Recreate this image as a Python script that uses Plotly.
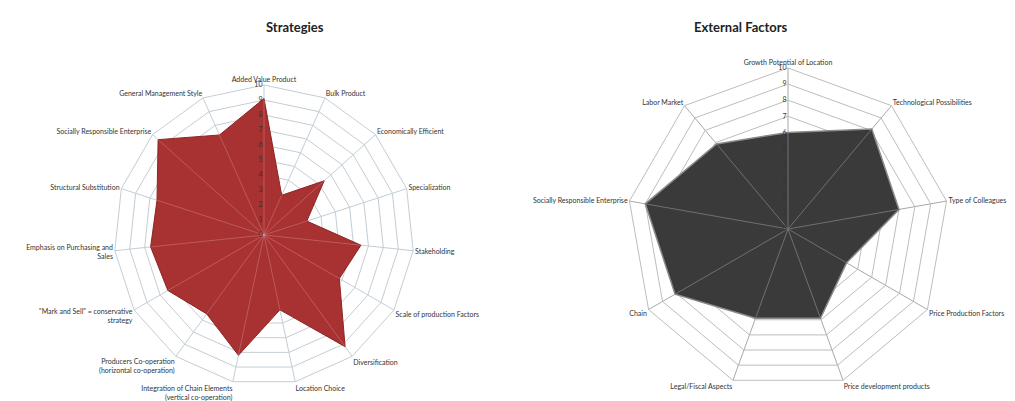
import plotly.graph_objects as go

strategy_categories = [
    "Added Value Product", "Bulk Product", "Economically Efficient", "Specialization",
    "Stakeholding", "Scale of production Factors", "Diversification", "Location Choice",
    "Integration of Chain Elements<br>(vertical co-operation)",
    "Producers Co-operation<br>(horizontal co-operation)",
    "\"Mark and Sell\" = conservative<br>strategy",
    "Emphasis on Purchasing and<br>Sales", "Structural Substitution",
    "Socially Responsible Enterprise", "General Management Style",
]
strategy_values = [9.1, 2.9, 5.4, 3.0, 6.5, 5.8, 9.2, 5.1, 8.2, 6.5, 7.4, 7.6, 7.5, 9.5, 7.3]

external_categories = [
    "Growth Potential of Location", "Technological Possibilities", "Type of Colleagues",
    "Price Production Factors", "Price development products", "Legal/Fiscal Aspects",
    "Chain", "Socially Responsible Enterprise", "Labor Market",
]
external_values = [6.0, 8.1, 7.0, 4.2, 5.9, 5.9, 8.1, 9.0, 6.9]

radial_ticks = list(range(0, 11))


def spokes(cats, vals):
    r, t = [], []
    for c, v in zip(cats, vals):
        r += [0, v, None]
        t += [c, c, None]
    return r, t


fig = go.Figure()
fig.add_trace(go.Scatterpolar(
    r=strategy_values + strategy_values[:1],
    theta=strategy_categories + strategy_categories[:1],
    fill="toself", fillcolor="#A83131", mode="lines",
    line=dict(color="#8E2424", width=1), subplot="polar", showlegend=False,
))
sr, st = spokes(strategy_categories, strategy_values)
fig.add_trace(go.Scatterpolar(
    r=sr, theta=st, mode="lines", line=dict(color="rgba(230,170,170,0.35)", width=1),
    subplot="polar", showlegend=False, hoverinfo="skip",
))
fig.add_trace(go.Scatterpolar(
    r=external_values + external_values[:1],
    theta=external_categories + external_categories[:1],
    fill="toself", fillcolor="#3A3A3A", mode="lines",
    line=dict(color="#8A8A8A", width=1.5), subplot="polar2", showlegend=False,
))
er, et = spokes(external_categories, external_values)
fig.add_trace(go.Scatterpolar(
    r=er, theta=et, mode="lines", line=dict(color="#707070", width=1),
    subplot="polar2", showlegend=False, hoverinfo="skip",
))

W, H = 1015, 401


def dom(cx, cy, r):
    return dict(x=[(cx - r) / W, (cx + r) / W], y=[(H - cy - r) / H, (H - cy + r) / H])


common_ang = dict(rotation=90, direction="clockwise", showline=True, ticks="",
                  tickfont=dict(size=7, color="#333333", family="Lato"))
common_rad = dict(range=[0, 10], tickvals=radial_ticks, angle=90, tickangle=90,
                  side="counterclockwise", showline=False, ticks="",
                  tickfont=dict(size=7, color="#333333", family="Lato"))

fig.update_layout(
    width=W, height=H,
    margin=dict(l=0, r=0, t=0, b=0),
    paper_bgcolor="white", plot_bgcolor="white",
    font=dict(family="Lato"),
    polar=dict(
        domain=dom(264, 235, 150), gridshape="linear", bgcolor="white",
        angularaxis=dict(**common_ang, linecolor="#C3CED6", gridcolor="#C3CED6"),
        radialaxis=dict(**common_rad, gridcolor="#C3CED6"),
    ),
    polar2=dict(
        domain=dom(788, 229, 161), gridshape="linear", bgcolor="white",
        angularaxis=dict(**common_ang, linecolor="#BDBDBD", gridcolor="#A8A8A8"),
        radialaxis=dict(**common_rad, gridcolor="#BDBDBD"),
    ),
    annotations=[
        dict(text="<b>Strategies</b>", x=264 / W, y=1 - 17 / H, xref="paper", yref="paper",
             showarrow=False, font=dict(size=13, color="#222222", family="Lato")),
        dict(text="<b>External Factors</b>", x=790 / W, y=1 - 17 / H, xref="paper", yref="paper",
             showarrow=False, font=dict(size=13, color="#222222", family="Lato")),
    ],
)

fig.write_html("out.html")
